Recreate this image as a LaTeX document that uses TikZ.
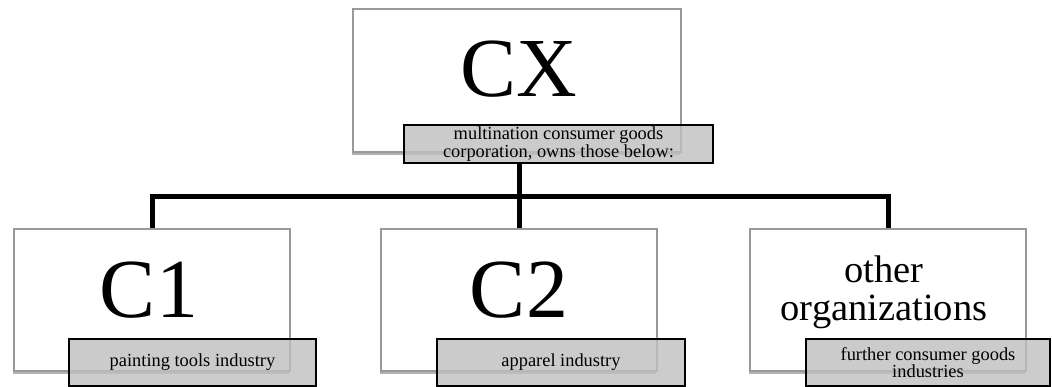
\documentclass[tikz,border=0pt]{standalone}
\usepackage{fontspec}
\setmainfont{Liberation Serif}
\usetikzlibrary{shadows}
\begin{document}
\begin{tikzpicture}
    [
    x=1pt, y=-1pt,
    orgbox/.style={rectangle,draw=black!40,line width=1.2pt,fill=white,inner sep=0pt,
      minimum width=276pt,minimum height=142pt,
      drop shadow={shadow xshift=-1.5pt,shadow yshift=-3pt,opacity=0.3,fill=black}},
    notebox/.style={rectangle,draw=black,line width=1.6pt,fill=black!25,fill opacity=0.8,
      text opacity=1,inner sep=0pt,minimum height=47pt,align=center,
      font=\fontsize{18.4}{16.7}\selectfont},
    bigname/.style={anchor=base,inner sep=0pt,font=\fontsize{84}{84}\selectfont},
    link/.style={line width=5pt}
    ]
    \useasboundingbox (0,0) rectangle (1052,387);

    \node (cx) at (517,80.5) [orgbox,minimum width=328pt,minimum height=143pt] {};
    \node (cxname) at (519,97) [bigname] {CX};
    \node (cxnote) at (558.5,144) [notebox,minimum width=309pt,minimum height=38pt]
      {multination consumer goods\\corporation, owns those below:};

    \node (c1) at (152,300) [orgbox] {};
    \node (c1name) at (149,318) [bigname] {C1};
    \node (c1note) at (192.5,362.5) [notebox,minimum width=247pt] {painting tools industry};

    \node (c2) at (519,300) [orgbox] {};
    \node (c2name) at (519,318) [bigname] {C2};
    \node (c2note) at (561,362.5) [notebox,minimum width=248pt] {apparel industry};

    \node (other) at (888,300) [orgbox] {};
    \node (othername) at (884,320) [anchor=base,inner sep=0pt,align=center,
      font=\fontsize{38.5}{37.7}\selectfont] {other\\organizations};
    \node (othernote) at (928,362.5) [notebox,minimum width=244pt]
      {further consumer goods\\industries};

    \coordinate (bar) at (519,197);
    \draw [link] (cxnote.south -| bar) -- (bar) -- (c2.north);
    \draw [link] (bar) -| (c1.north);
    \draw [link] (bar) -| (other.north);
  \end{tikzpicture}
\end{document}
